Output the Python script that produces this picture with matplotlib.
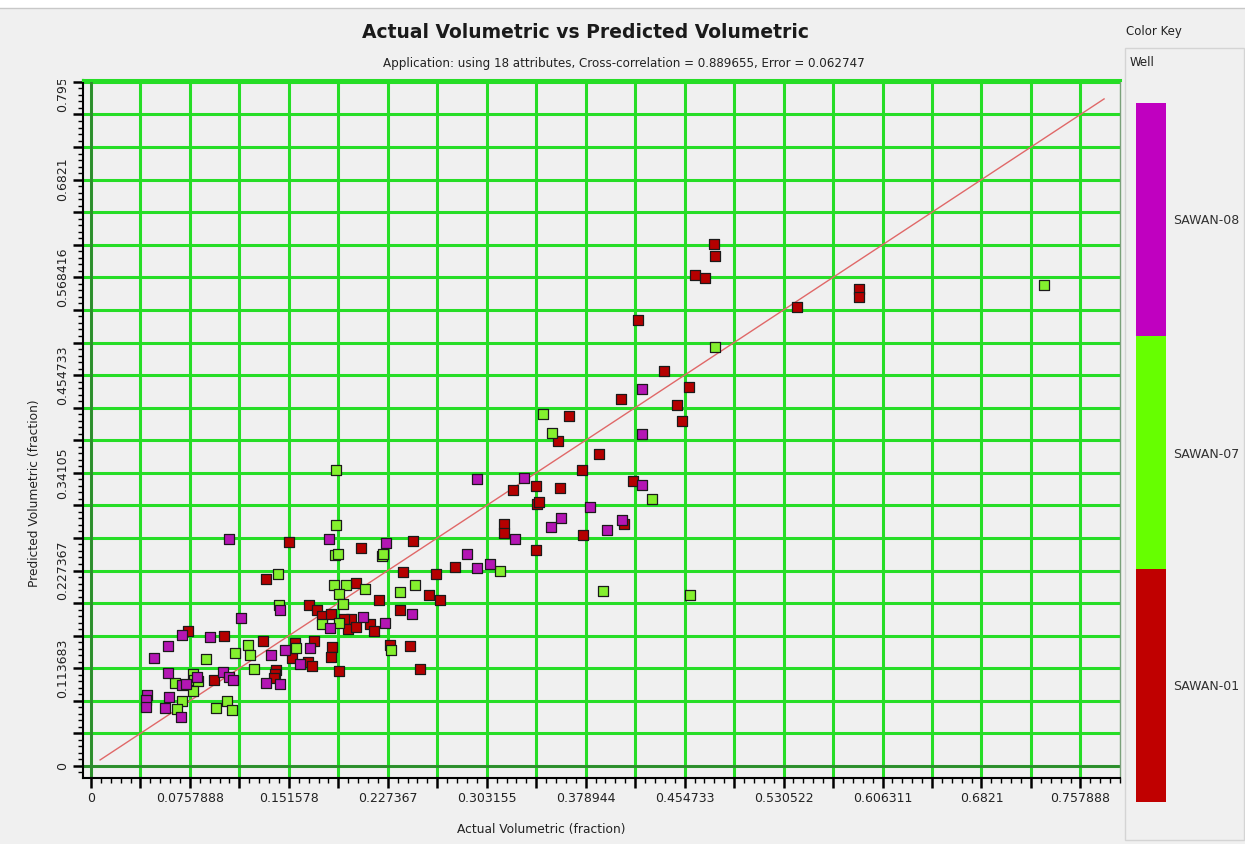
import numpy as np
import matplotlib.pyplot as plt
from matplotlib.colors import ListedColormap, BoundaryNorm
from matplotlib.cm import ScalarMappable
from matplotlib.patches import Rectangle
from matplotlib.transforms import Bbox, TransformedBbox


wells = ['SAWAN-01', 'SAWAN-07', 'SAWAN-08']
marker_colors = ['#b50000', '#84f02e', '#b416b4']
key_colors = ['#c00000', '#66ff00', '#c000c0']

# SAWAN-01 (red)
actual_01 = [0.477, 0.478, 0.463, 0.470, 0.419, 0.541, 0.588, 0.588, 0.439, 0.406,
             0.458, 0.449, 0.453, 0.366, 0.358, 0.389, 0.376, 0.415, 0.323, 0.341,
             0.359, 0.342, 0.343, 0.408, 0.377, 0.316, 0.316, 0.341, 0.279, 0.152,
             0.207, 0.247, 0.239, 0.264, 0.203, 0.259, 0.267, 0.221, 0.167, 0.173,
             0.177, 0.184, 0.199, 0.194, 0.197, 0.203, 0.214, 0.217, 0.237, 0.229,
             0.244, 0.252, 0.156, 0.171, 0.154, 0.166, 0.169, 0.185, 0.184, 0.190,
             0.134, 0.074, 0.102, 0.132, 0.094, 0.142, 0.141, 0.140]
pred_01 = [0.607, 0.593, 0.571, 0.568, 0.519, 0.534, 0.555, 0.545, 0.459, 0.427,
           0.441, 0.420, 0.401, 0.407, 0.378, 0.363, 0.344, 0.332, 0.321, 0.326,
           0.323, 0.305, 0.307, 0.281, 0.269, 0.282, 0.271, 0.251, 0.232, 0.260,
           0.254, 0.262, 0.226, 0.223, 0.213, 0.199, 0.193, 0.193, 0.187, 0.182,
           0.175, 0.177, 0.171, 0.171, 0.159, 0.162, 0.165, 0.157, 0.181, 0.141,
           0.140, 0.113, 0.143, 0.145, 0.126, 0.121, 0.116, 0.138, 0.127, 0.111,
           0.218, 0.157, 0.151, 0.145, 0.100, 0.112, 0.107, 0.102]

# SAWAN-07 (green)
actual_07 = [0.478, 0.730, 0.346, 0.353, 0.430, 0.313, 0.392, 0.459, 0.188, 0.188,
             0.187, 0.189, 0.223, 0.224, 0.143, 0.186, 0.195, 0.210, 0.190, 0.237,
             0.248, 0.193, 0.177, 0.190, 0.230, 0.157, 0.144, 0.088, 0.120, 0.110,
             0.122, 0.125, 0.064, 0.078, 0.079, 0.082, 0.078, 0.070, 0.066, 0.096,
             0.104, 0.108]
pred_07 = [0.487, 0.559, 0.410, 0.387, 0.310, 0.227, 0.204, 0.199, 0.344, 0.280,
           0.246, 0.247, 0.244, 0.247, 0.223, 0.211, 0.211, 0.206, 0.200, 0.202,
           0.211, 0.189, 0.165, 0.166, 0.135, 0.137, 0.187, 0.125, 0.141, 0.131,
           0.129, 0.113, 0.096, 0.107, 0.100, 0.099, 0.087, 0.076, 0.066, 0.068,
           0.076, 0.065]

# SAWAN-08 (purple)
actual_08 = [0.422, 0.422, 0.422, 0.296, 0.332, 0.382, 0.360, 0.352, 0.395, 0.407,
             0.325, 0.288, 0.296, 0.306, 0.182, 0.226, 0.106, 0.208, 0.225, 0.183,
             0.246, 0.149, 0.168, 0.160, 0.145, 0.115, 0.070, 0.059, 0.091, 0.048,
             0.138, 0.059, 0.070, 0.073, 0.081, 0.101, 0.106, 0.109, 0.134, 0.145,
             0.043, 0.042, 0.042, 0.060, 0.057, 0.069]
pred_08 = [0.439, 0.386, 0.327, 0.334, 0.335, 0.301, 0.289, 0.278, 0.275, 0.286,
           0.264, 0.247, 0.230, 0.235, 0.264, 0.259, 0.264, 0.173, 0.166, 0.160,
           0.177, 0.135, 0.137, 0.119, 0.182, 0.172, 0.152, 0.140, 0.150, 0.126,
           0.129, 0.108, 0.094, 0.095, 0.104, 0.109, 0.104, 0.100, 0.097, 0.095,
           0.083, 0.077, 0.069, 0.080, 0.068, 0.057]

step = 0.0378944
x_tick_text = ['0', '0.0757888', '0.151578', '0.227367', '0.303155', '0.378944',
               '0.454733', '0.530522', '0.606311', '0.6821', '0.757888']
y_tick_text = ['0', '0.113683', '0.227367', '0.34105', '0.454733', '0.568416',
               '0.6821', '0.795781']
fit_line = [0.007, 0.776]

title = 'Actual Volumetric vs Predicted Volumetric'
subtitle = ('Application: using 18 attributes, Cross-correlation = 0.889655, '
            'Error = 0.062747')

W, H = 1245, 844
bg = '#f0f0f0'
grid_green = '#26dd26'

fig = plt.figure(figsize=(W / 100, H / 100), dpi=100, facecolor=bg)
ax = fig.add_axes([83 / W, 66 / H, 1037 / W, 698 / H], facecolor=bg)

ax.set_xlim(-0.0061, 0.7868)
ax.set_ylim(-0.014, 0.798)

# ticks: grid at every step, labels every 2nd (x) / 3rd (y)
x_major = np.arange(21) * step
y_major = np.arange(22) * step
ax.set_xticks(x_major, [x_tick_text[i // 2] if i % 2 == 0 else '' for i in range(21)])
ax.set_yticks(y_major, [y_tick_text[i // 3] if i % 3 == 0 else '' for i in range(22)])
ax.set_xticks(np.arange(0, 105) * step / 5, minor=True)
ax.set_yticks(np.arange(-1, 106) * step / 5, minor=True)
ax.tick_params(which='major', length=7, width=1.8, color='black',
               labelsize=9, labelcolor='#222222', pad=3)
ax.tick_params(which='minor', length=3.5, width=1, color='black')
for lbl in ax.get_yticklabels():
    lbl.set_rotation(90)
    lbl.set_va('center')

ax.grid(True, which='major', color=grid_green, lw=2.2)
ax.set_axisbelow(True)
ax.axhline(0, color='#2e8a2e', lw=2, zorder=1)
ax.axvline(0, color='#2e8a2e', lw=2, zorder=1)

ax.spines['left'].set_color('black')
ax.spines['bottom'].set_color('black')
ax.spines['left'].set_linewidth(1.5)
ax.spines['bottom'].set_linewidth(1.5)
ax.spines['top'].set_color(grid_green)
ax.spines['top'].set_linewidth(2.2)
ax.spines['right'].set_color('#7aa07a')
ax.spines['right'].set_linewidth(1)

ax.plot(fit_line, fit_line, color='#e06868', lw=1, zorder=2)

series = [(actual_01, pred_01), (actual_07, pred_07), (actual_08, pred_08)]
for (xs, ys), col in zip(series, marker_colors):
    ax.scatter(xs, ys, marker='s', s=45, c=col, edgecolors='#1a1a1a',
               linewidths=0.9, zorder=3)

# top y label is cut off by the plot border in the original
top_lbl = ax.get_yticklabels()[-1]
top_lbl.set_clip_box(TransformedBbox(Bbox([[0, 0], [1, (H - 80) / H]]), fig.transFigure))
top_lbl.set_clip_on(True)

fig.text(585 / W, 1 - 33 / H, title, ha='center', va='center',
         fontsize=13.5, fontweight='bold', color='#1a1a1a')
fig.text(624 / W, 1 - 63 / H, subtitle, ha='center', va='center',
         fontsize=8.6, color='#222222')
fig.text(541 / W, 1 - 830 / H, 'Actual Volumetric (fraction)', ha='center',
         va='center', fontsize=8.8, color='#222222')
fig.text(35 / W, 1 - 493 / H, 'Predicted Volumetric (fraction)', ha='center',
         va='center', rotation=90, fontsize=8.8, color='#222222')

# color key panel
fig.patches.append(Rectangle((0, (H - 8) / H), 1, 8 / H, transform=fig.transFigure,
                             facecolor='white', edgecolor='none'))
fig.lines.append(plt.Line2D([0, 1], [(H - 8) / H] * 2, transform=fig.transFigure,
                            color='#c8c8c8', lw=1))
fig.patches.append(Rectangle((1125 / W, 4 / H), 119 / W, 792 / H,
                             transform=fig.transFigure, facecolor='none',
                             edgecolor='#d4d4d4', lw=1))
fig.text(1126 / W, 1 - 32 / H, 'Color Key', ha='left', va='center',
         fontsize=8.5, color='#222222')
fig.text(1130 / W, 1 - 63 / H, 'Well', ha='left', va='center',
         fontsize=8.5, color='#222222')

cax = fig.add_axes([1136 / W, 42 / H, 30 / W, 699 / H])
cmap = ListedColormap(key_colors)
norm = BoundaryNorm([0, 1, 2, 3], cmap.N)
cb = fig.colorbar(ScalarMappable(norm=norm, cmap=cmap), cax=cax,
                  ticks=[0.5, 1.5, 2.5])
cb.set_ticklabels(wells)
cb.outline.set_visible(False)
cax.minorticks_off()
cax.tick_params(which='both', length=0, labelsize=9, pad=5, labelcolor='#303030')

fig.savefig('out.png', dpi=100, facecolor=bg)
